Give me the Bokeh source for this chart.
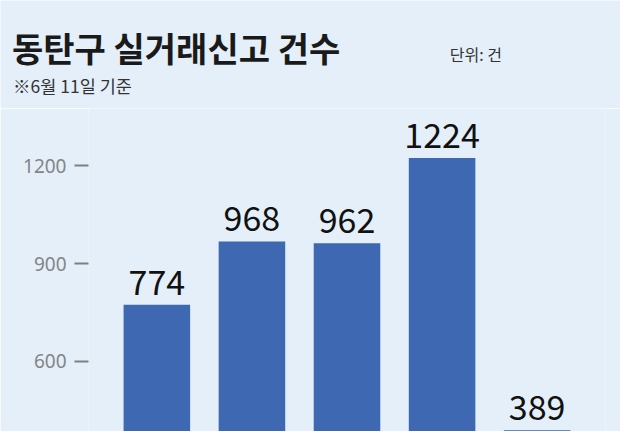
from bokeh.plotting import figure
from bokeh.layouts import column
from bokeh.models import ColumnDataSource, FactorRange, Range1d, FixedTicker, Label
from bokeh.core.properties import value
from bokeh.embed import file_html
from bokeh.resources import INLINE

# ---- data ----
categories = ["A", "B", "C", "D", "E"]
counts = [774, 968, 962, 1224, 389]
count_labels = [str(c) for c in counts]
y_ticks = [600, 900, 1200]

title_text = "동탄구 실거래신고 건수"
subtitle_text = "※6월 11일 기준"
unit_text = "단위: 건"

BG = "#e4eff9"
BAR = "#3e68b2"
W = 620
HEAD_H = 108
CHART_H = 431 - HEAD_H

# ---- header (title texts) ----
head = figure(width=W, height=HEAD_H, x_range=Range1d(0, W), y_range=Range1d(0, HEAD_H),
              x_axis_type=None, y_axis_type=None, output_backend="svg",
              toolbar_location=None, min_border=0)
head.frame_align = False
head.background_fill_color = BG
head.border_fill_color = BG
head.outline_line_color = None
head.xgrid.visible = False
head.ygrid.visible = False

head.add_layout(Label(x=11.5, y=HEAD_H - 46.6, text=title_text,
                      text_font="Noto Sans CJK KR", text_font_style="bold",
                      text_font_size="34px", text_color="#1a1a1a",
                      text_baseline="middle", text_align="left"))
head.add_layout(Label(x=12.5, y=HEAD_H - 85.4, text=subtitle_text,
                      text_font="Noto Sans CJK KR", text_font_size="17.5px",
                      text_color="#333333", text_baseline="middle", text_align="left"))
head.add_layout(Label(x=501.5, y=HEAD_H - 53.5, text=unit_text,
                      text_font="Noto Sans CJK KR", text_font_size="16px",
                      text_color="#333333", text_baseline="middle", text_align="right"))

# ---- chart ----
source = ColumnDataSource(dict(cat=categories, val=counts, lab=count_labels))

p = figure(
    width=W, height=CHART_H,
    x_range=FactorRange(factors=categories, range_padding=0.219, range_padding_units="absolute"),
    y_range=Range1d(385, 1375.5),
    output_backend="svg", toolbar_location=None,
    min_border_left=88, min_border_right=15, min_border_top=0, min_border_bottom=0,
)
p.frame_align = False
p.background_fill_color = BG
p.border_fill_color = BG
p.outline_line_color = None
p.xgrid.visible = False
p.ygrid.visible = False
p.xaxis.visible = False

ya = p.yaxis[0]
ya.ticker = FixedTicker(ticks=y_ticks)
ya.axis_line_color = None
ya.minor_tick_line_color = None
ya.major_tick_in = 0
ya.major_tick_out = 14
ya.major_tick_line_color = "#808080"
ya.major_tick_line_width = 2
ya.major_label_standoff = 8
ya.major_label_text_color = "#858585"
ya.major_label_text_font = "Noto Sans"
ya.major_label_text_font_size = "19px"

p.vbar(x="cat", top="val", bottom=0, width=0.70, source=source,
       fill_color=BAR, line_color=None)

p.text(x="cat", y="val", text="lab", source=source,
       text_align="center", text_baseline="bottom", y_offset=-10,
       text_font=value("Noto Sans CJK KR"), text_font_size="34px",
       text_color="#111111")

layout = column(head, p, spacing=0)
open("out.html", "w").write(file_html(layout, INLINE))
